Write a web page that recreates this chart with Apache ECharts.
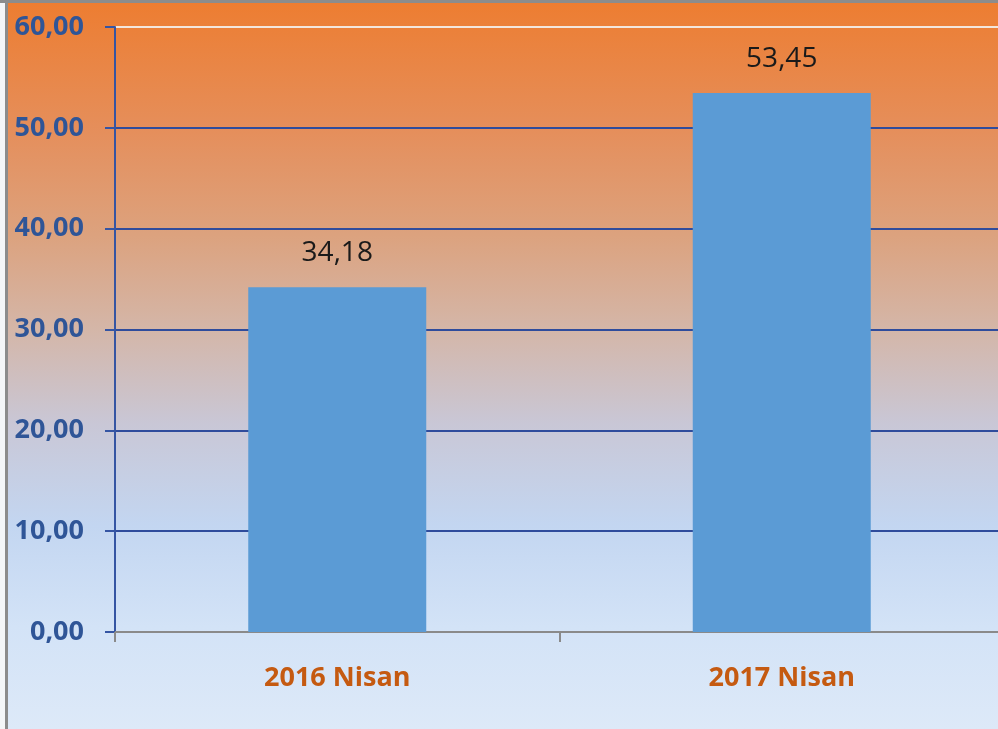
<!DOCTYPE html>
<html>
<head>
<meta charset="utf-8">
<title>Nisan</title>
<script src="https://cdn.jsdelivr.net/npm/echarts@6/dist/echarts.min.js"></script>
<style>
  html, body { margin: 0; padding: 0; background: #ffffff; overflow: hidden; }
  /* the plot runs a few pixels past the right edge of the picture */
  #chart { width: 1006px; height: 729px; }
</style>
</head>
<body>
<div id="chart"></div>
<script>
// data
var categories = ['2016 Nisan', '2017 Nisan'];
var values = [34.18, 53.45];
var yTicks = [0, 10, 20, 30, 40, 50, 60];

var fmt = function (v) { return Number(v).toFixed(2).replace('.', ','); };

var chart = echarts.init(document.getElementById('chart'));
var gridColor = '#2f4c9c';

chart.setOption({
  animation: false,
  backgroundColor: '#f4f6f8',
  graphic: [
    {
      type: 'rect', z: -10, silent: true,
      shape: { x: 6, y: 2, width: 1000, height: 727 },
      style: {
        fill: new echarts.graphic.LinearGradient(0, 0, 0, 1, [
          { offset: 0, color: '#ed7d31' },
          { offset: 0.18, color: '#e58f5c' },
          { offset: 0.32, color: '#dca27e' },
          { offset: 0.45, color: '#d4b6a8' },
          { offset: 0.58, color: '#c9c7d6' },
          { offset: 0.72, color: '#c3d6f1' },
          { offset: 0.86, color: '#d3e3f7' },
          { offset: 1, color: '#dde9f8' }
        ])
      }
    },
    {
      type: 'rect', z: -9, silent: true,
      shape: { x: 0, y: 0, width: 1006, height: 3 },
      style: { fill: '#8c8c8c' }
    },
    {
      type: 'rect', z: -9, silent: true,
      shape: { x: 5, y: 0, width: 3, height: 729 },
      style: { fill: '#8c8c8c' }
    }
  ],
  grid: { left: 115, right: 2, top: 27, bottom: 97, containLabel: false },
  xAxis: {
    type: 'category',
    data: categories,
    axisLine: { lineStyle: { color: '#8a8a8a', width: 2 } },
    axisTick: { show: true, length: 10, lineStyle: { color: '#8a8a8a', width: 2 } },
    axisLabel: {
      margin: 33,
      color: '#c55a11',
      fontFamily: 'Open Sans',
      fontWeight: 'bold',
      fontSize: 27
    }
  },
  yAxis: {
    type: 'value',
    min: yTicks[0],
    max: yTicks[yTicks.length - 1],
    interval: 10,
    axisLine: { show: true, lineStyle: { color: '#3555a3', width: 2 } },
    axisTick: { show: true, length: 10, lineStyle: { color: '#3555a3', width: 2 } },
    axisLabel: {
      margin: 31,
      color: '#2f5597',
      fontFamily: 'Open Sans',
      fontWeight: 'bold',
      fontSize: 27,
      formatter: fmt
    },
    splitLine: {
      show: true,
      lineStyle: {
        width: 2,
        color: [gridColor, gridColor, gridColor, gridColor, gridColor, gridColor, '#f3e6dc']
      }
    }
  },
  series: [{
    type: 'bar',
    data: values,
    barWidth: 178,
    itemStyle: { color: '#5b9bd5' },
    label: {
      show: true,
      position: 'top',
      distance: 20,
      color: '#1a1a1a',
      fontFamily: 'Open Sans',
      fontSize: 28,
      formatter: function (p) { return fmt(p.value); }
    }
  }]
});
</script>
</body>
</html>
